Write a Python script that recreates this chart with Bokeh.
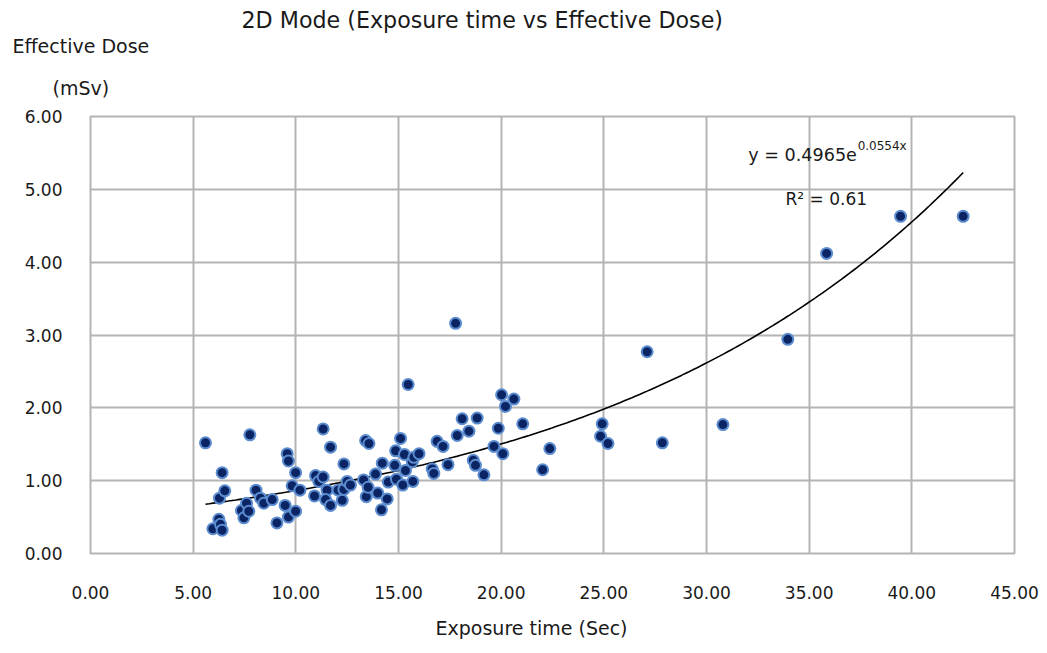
import numpy as np
from bokeh.plotting import figure
from bokeh.models import Range1d, FixedTicker, NumeralTickFormatter, Label, Title, ColumnDataSource
from bokeh.embed import file_html
from bokeh.resources import INLINE

# ---- data ----
exposure_time = [
    5.60, 5.96, 6.25, 6.33, 6.41, 6.28, 6.41, 6.54, 7.76, 7.35, 7.47, 7.60, 7.71,
    8.06, 8.28, 8.44, 8.85, 9.08, 9.48, 9.58, 9.64, 9.64, 9.82, 9.99, 9.99, 10.20,
    10.96, 11.12, 11.33, 10.91, 11.33, 11.69, 11.52, 11.45, 11.69, 12.06, 12.26,
    12.34, 12.34, 12.50, 12.66, 13.30, 13.40, 13.56, 13.43, 13.52, 13.88, 13.99,
    14.21, 14.17, 14.45, 14.50, 14.82, 14.86, 14.90, 15.10, 15.21, 15.29, 15.34,
    15.47, 15.67, 15.70, 15.75, 16.00, 16.64, 16.72, 16.88, 17.17, 17.41, 17.78,
    17.86, 18.10, 18.43, 18.64, 18.75, 18.83, 19.16, 19.65, 19.86, 20.02, 20.08,
    20.21, 20.62, 21.05, 22.02, 22.37, 24.92, 24.84, 25.20, 27.11, 27.85, 30.80,
    33.96, 35.85, 39.45, 42.50,
]
effective_dose = [
    1.52, 0.34, 0.47, 0.40, 0.32, 0.76, 1.11, 0.86, 1.63, 0.59, 0.49, 0.69, 0.58,
    0.87, 0.76, 0.69, 0.74, 0.42, 0.66, 1.37, 1.27, 0.50, 0.93, 1.11, 0.58, 0.87,
    1.07, 0.99, 1.05, 0.79, 1.71, 1.46, 0.87, 0.74, 0.66, 0.87, 0.73,
    1.23, 0.88, 0.99, 0.94, 1.01, 1.55, 1.51, 0.78, 0.91, 1.09, 0.83,
    1.24, 0.60, 0.75, 0.98, 1.21, 1.41, 1.02, 1.58, 0.94, 1.36, 1.14,
    2.32, 1.26, 0.99, 1.32, 1.37, 1.16, 1.10, 1.54, 1.47, 1.22, 3.16,
    1.62, 1.85, 1.68, 1.28, 1.21, 1.86, 1.08, 1.47, 1.72, 2.18, 1.37,
    2.02, 2.12, 1.78, 1.15, 1.44, 1.78, 1.61, 1.51, 2.77, 1.52, 1.77,
    2.94, 4.12, 4.63, 4.63,
]
x_ticks = [0, 5, 10, 15, 20, 25, 30, 35, 40, 45]
y_ticks = [0, 1, 2, 3, 4, 5, 6]

# exponential trendline coefficients shown on the chart
trend_a = 0.4965
trend_b = 0.0554

FONT = "DejaVu Sans"
TXT = "#1a1a1a"
GRID = "#b4b4b4"

W, H = 1040, 653
FRAME_LEFT = 90


def ttl(text, size, left_px, standoff):
    return Title(text=text, align="left", offset=left_px - FRAME_LEFT, standoff=standoff,
                 text_font=FONT, text_font_size=size, text_font_style="normal",
                 text_color=TXT)


p = figure(width=W, height=H, output_backend="svg", toolbar_location=None,
           x_range=Range1d(0, 45), y_range=Range1d(0, 6),
           min_border_left=FRAME_LEFT, min_border_right=26, min_border_top=116,
           min_border_bottom=H - 553,
           title=ttl("2D Mode (Exposure time vs Effective Dose)", "22.2px", 241, 0))
p.add_layout(ttl("(mSv)", "19px", 52, 36), "above")
p.add_layout(ttl("Effective Dose", "19px", 12, 0), "above")

p.background_fill_color = "white"
p.border_fill_color = "white"
p.outline_line_color = GRID
p.outline_line_width = 2

for ax, ticks in ((p.xaxis[0], x_ticks), (p.yaxis[0], y_ticks)):
    ax.ticker = FixedTicker(ticks=ticks)
    ax.formatter = NumeralTickFormatter(format="0.00")
    ax.axis_line_color = None
    ax.major_tick_line_color = None
    ax.minor_tick_line_color = None
    ax.major_tick_out = 0
    ax.major_tick_in = 0
    ax.major_label_text_font = FONT
    ax.major_label_text_font_size = "17px"
    ax.major_label_text_color = TXT
p.xaxis[0].major_label_standoff = 32
p.yaxis[0].major_label_standoff = 28

p.add_layout(ttl("Exposure time (Sec)", "19px", 435, 26), "below")

p.xgrid.ticker = FixedTicker(ticks=x_ticks)
p.ygrid.ticker = FixedTicker(ticks=y_ticks)
for g in (p.xgrid[0], p.ygrid[0]):
    g.grid_line_color = GRID
    g.grid_line_width = 2

# trendline
tx = np.linspace(min(exposure_time), max(exposure_time), 200)
ty = trend_a * np.exp(trend_b * tx)
p.line(tx, ty, line_color="black", line_width=1.6)

src = ColumnDataSource(dict(x=exposure_time, y=effective_dose))
p.scatter("x", "y", source=src, size=11, marker="circle",
          fill_color="#0b2463", line_color="#5b8ccf", line_width=2)


def lab(x, y, text, size):
    p.add_layout(Label(x=x, y=y, text=text, text_font=FONT, text_font_size=size,
                       text_color=TXT, text_align="left", text_baseline="middle"))


# trendline annotation inside the plot (data units)
lab(32.03, 5.465, "y = 0.4965e", "17.6px")
lab(37.36, 5.59, "0.0554x", "12px")
lab(33.85, 4.874, "R² = 0.61", "17px")

open("out.html", "w").write(file_html(p, INLINE))
